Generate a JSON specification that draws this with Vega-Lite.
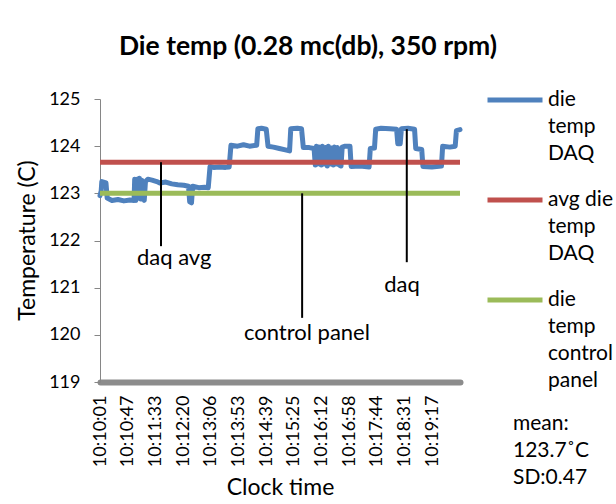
{
  "$schema": "https://vega.github.io/schema/vega-lite/v6.json",
  "width": 360,
  "height": 283,
  "autosize": {"type": "none"},
  "padding": {"left": 100, "top": 99, "right": 156, "bottom": 122},
  "background": "white",
  "config": {
    "font": "Lato",
    "view": {"stroke": null},
    "style": {"guide-label": {"lineHeight": 27}}
  },
  "title": {
    "text": "Die temp (0.28 mc(db), 350 rpm)",
    "font": "Lato",
    "fontSize": 26.5,
    "fontWeight": "bold",
    "color": "black",
    "anchor": "middle",
    "frame": "group",
    "dx": 28,
    "dy": 11,
    "baseline": "alphabetic",
    "offset": 0
  },
  "encoding": {
    "x": {
      "field": "t",
      "type": "temporal",
      "scale": {"domain": [
        {"year": 1900, "month": 1, "date": 1, "hours": 10, "minutes": 10, "seconds": 1},
        {"year": 1900, "month": 1, "date": 1, "hours": 10, "minutes": 20, "seconds": 3}
      ]},
      "axis": {
        "title": "Clock time",
        "values": [
          {"year": 1900, "month": 1, "date": 1, "hours": 10, "minutes": 10, "seconds": 1},
          {"year": 1900, "month": 1, "date": 1, "hours": 10, "minutes": 10, "seconds": 47},
          {"year": 1900, "month": 1, "date": 1, "hours": 10, "minutes": 11, "seconds": 33},
          {"year": 1900, "month": 1, "date": 1, "hours": 10, "minutes": 12, "seconds": 20},
          {"year": 1900, "month": 1, "date": 1, "hours": 10, "minutes": 13, "seconds": 6},
          {"year": 1900, "month": 1, "date": 1, "hours": 10, "minutes": 13, "seconds": 53},
          {"year": 1900, "month": 1, "date": 1, "hours": 10, "minutes": 14, "seconds": 39},
          {"year": 1900, "month": 1, "date": 1, "hours": 10, "minutes": 15, "seconds": 25},
          {"year": 1900, "month": 1, "date": 1, "hours": 10, "minutes": 16, "seconds": 12},
          {"year": 1900, "month": 1, "date": 1, "hours": 10, "minutes": 16, "seconds": 58},
          {"year": 1900, "month": 1, "date": 1, "hours": 10, "minutes": 17, "seconds": 44},
          {"year": 1900, "month": 1, "date": 1, "hours": 10, "minutes": 18, "seconds": 31},
          {"year": 1900, "month": 1, "date": 1, "hours": 10, "minutes": 19, "seconds": 17}
        ],
        "format": "%H:%M:%S",
        "labelAngle": 270,
        "labelAlign": "right",
        "labelBaseline": "middle",
        "labelFontSize": 18,
        "labelColor": "black",
        "labelPadding": 13,
        "labelOverlap": false,
        "labelFlush": false,
        "ticks": false,
        "grid": false,
        "domainColor": "#8c8c8c",
        "domainWidth": 6,
        "domainCap": "round",
        "titleFontSize": 23,
        "titleFontWeight": "normal",
        "titleColor": "black",
        "titleBaseline": "alphabetic",
        "titleY": 112
      }
    },
    "y": {
      "field": "v",
      "type": "quantitative",
      "scale": {"domain": [119, 125], "nice": false, "zero": false},
      "axis": {
        "title": "Temperature (C)",
        "values": [119, 120, 121, 122, 123, 124, 125],
        "labelFontSize": 18,
        "labelColor": "black",
        "labelPadding": 14,
        "tickSize": 6,
        "tickColor": "#868686",
        "domainColor": "#868686",
        "grid": false,
        "titleFontSize": 23,
        "titleFontWeight": "normal",
        "titleColor": "black",
        "titleAngle": 270,
        "titleBaseline": "alphabetic",
        "titleAlign": "center",
        "titleX": -66,
        "titleY": 141
      }
    }
  },
  "layer": [
    {
      "data": {
        "values": [
          {"s": "die temp DAQ", "t": "10:10:01", "v": 122.95},
          {"s": "die temp DAQ", "t": "10:10:03", "v": 123.05},
          {"s": "die temp DAQ", "t": "10:10:04", "v": 123.25},
          {"s": "die temp DAQ", "t": "10:10:11", "v": 123.22},
          {"s": "die temp DAQ", "t": "10:10:13", "v": 122.9},
          {"s": "die temp DAQ", "t": "10:10:21", "v": 122.85},
          {"s": "die temp DAQ", "t": "10:10:31", "v": 122.87},
          {"s": "die temp DAQ", "t": "10:10:41", "v": 122.84},
          {"s": "die temp DAQ", "t": "10:10:51", "v": 122.86},
          {"s": "die temp DAQ", "t": "10:10:58", "v": 122.85},
          {"s": "die temp DAQ", "t": "10:10:59", "v": 123.3},
          {"s": "die temp DAQ", "t": "10:11:01", "v": 122.85},
          {"s": "die temp DAQ", "t": "10:11:03", "v": 123.3},
          {"s": "die temp DAQ", "t": "10:11:05", "v": 122.9},
          {"s": "die temp DAQ", "t": "10:11:07", "v": 123.32},
          {"s": "die temp DAQ", "t": "10:11:09", "v": 122.88},
          {"s": "die temp DAQ", "t": "10:11:11", "v": 123.28},
          {"s": "die temp DAQ", "t": "10:11:13", "v": 123.0},
          {"s": "die temp DAQ", "t": "10:11:15", "v": 122.85},
          {"s": "die temp DAQ", "t": "10:11:17", "v": 123.25},
          {"s": "die temp DAQ", "t": "10:11:21", "v": 123.3},
          {"s": "die temp DAQ", "t": "10:11:28", "v": 123.28},
          {"s": "die temp DAQ", "t": "10:11:36", "v": 123.25},
          {"s": "die temp DAQ", "t": "10:11:41", "v": 123.22},
          {"s": "die temp DAQ", "t": "10:11:51", "v": 123.24},
          {"s": "die temp DAQ", "t": "10:12:01", "v": 123.2},
          {"s": "die temp DAQ", "t": "10:12:11", "v": 123.18},
          {"s": "die temp DAQ", "t": "10:12:21", "v": 123.17},
          {"s": "die temp DAQ", "t": "10:12:29", "v": 123.15},
          {"s": "die temp DAQ", "t": "10:12:31", "v": 122.82},
          {"s": "die temp DAQ", "t": "10:12:34", "v": 122.8},
          {"s": "die temp DAQ", "t": "10:12:36", "v": 123.15},
          {"s": "die temp DAQ", "t": "10:12:46", "v": 123.12},
          {"s": "die temp DAQ", "t": "10:12:56", "v": 123.13},
          {"s": "die temp DAQ", "t": "10:13:02", "v": 123.12},
          {"s": "die temp DAQ", "t": "10:13:05", "v": 123.57},
          {"s": "die temp DAQ", "t": "10:13:11", "v": 123.55},
          {"s": "die temp DAQ", "t": "10:13:21", "v": 123.56},
          {"s": "die temp DAQ", "t": "10:13:31", "v": 123.55},
          {"s": "die temp DAQ", "t": "10:13:37", "v": 123.56},
          {"s": "die temp DAQ", "t": "10:13:40", "v": 124.02},
          {"s": "die temp DAQ", "t": "10:13:51", "v": 124.0},
          {"s": "die temp DAQ", "t": "10:14:01", "v": 124.03},
          {"s": "die temp DAQ", "t": "10:14:11", "v": 124.0},
          {"s": "die temp DAQ", "t": "10:14:23", "v": 124.02},
          {"s": "die temp DAQ", "t": "10:14:25", "v": 124.37},
          {"s": "die temp DAQ", "t": "10:14:31", "v": 124.38},
          {"s": "die temp DAQ", "t": "10:14:39", "v": 124.36},
          {"s": "die temp DAQ", "t": "10:14:42", "v": 124.0},
          {"s": "die temp DAQ", "t": "10:14:51", "v": 123.98},
          {"s": "die temp DAQ", "t": "10:15:01", "v": 123.95},
          {"s": "die temp DAQ", "t": "10:15:11", "v": 123.92},
          {"s": "die temp DAQ", "t": "10:15:18", "v": 123.9},
          {"s": "die temp DAQ", "t": "10:15:20", "v": 124.37},
          {"s": "die temp DAQ", "t": "10:15:31", "v": 124.38},
          {"s": "die temp DAQ", "t": "10:15:38", "v": 124.37},
          {"s": "die temp DAQ", "t": "10:15:41", "v": 123.97},
          {"s": "die temp DAQ", "t": "10:15:51", "v": 123.97},
          {"s": "die temp DAQ", "t": "10:15:59", "v": 123.95},
          {"s": "die temp DAQ", "t": "10:16:01", "v": 123.6},
          {"s": "die temp DAQ", "t": "10:16:03", "v": 124.0},
          {"s": "die temp DAQ", "t": "10:16:05", "v": 123.62},
          {"s": "die temp DAQ", "t": "10:16:07", "v": 123.98},
          {"s": "die temp DAQ", "t": "10:16:09", "v": 123.95},
          {"s": "die temp DAQ", "t": "10:16:11", "v": 123.6},
          {"s": "die temp DAQ", "t": "10:16:13", "v": 124.0},
          {"s": "die temp DAQ", "t": "10:16:16", "v": 123.62},
          {"s": "die temp DAQ", "t": "10:16:18", "v": 123.97},
          {"s": "die temp DAQ", "t": "10:16:21", "v": 123.58},
          {"s": "die temp DAQ", "t": "10:16:23", "v": 124.0},
          {"s": "die temp DAQ", "t": "10:16:26", "v": 123.62},
          {"s": "die temp DAQ", "t": "10:16:28", "v": 123.96},
          {"s": "die temp DAQ", "t": "10:16:31", "v": 123.6},
          {"s": "die temp DAQ", "t": "10:16:33", "v": 123.98},
          {"s": "die temp DAQ", "t": "10:16:36", "v": 123.62},
          {"s": "die temp DAQ", "t": "10:16:38", "v": 123.97},
          {"s": "die temp DAQ", "t": "10:16:41", "v": 123.6},
          {"s": "die temp DAQ", "t": "10:16:44", "v": 123.58},
          {"s": "die temp DAQ", "t": "10:16:46", "v": 123.98},
          {"s": "die temp DAQ", "t": "10:16:51", "v": 124.0},
          {"s": "die temp DAQ", "t": "10:16:59", "v": 124.0},
          {"s": "die temp DAQ", "t": "10:17:01", "v": 123.57},
          {"s": "die temp DAQ", "t": "10:17:16", "v": 123.58},
          {"s": "die temp DAQ", "t": "10:17:31", "v": 123.56},
          {"s": "die temp DAQ", "t": "10:17:33", "v": 123.95},
          {"s": "die temp DAQ", "t": "10:17:40", "v": 123.96},
          {"s": "die temp DAQ", "t": "10:17:42", "v": 124.36},
          {"s": "die temp DAQ", "t": "10:17:51", "v": 124.38},
          {"s": "die temp DAQ", "t": "10:18:06", "v": 124.37},
          {"s": "die temp DAQ", "t": "10:18:17", "v": 124.36},
          {"s": "die temp DAQ", "t": "10:18:19", "v": 124.05},
          {"s": "die temp DAQ", "t": "10:18:23", "v": 124.05},
          {"s": "die temp DAQ", "t": "10:18:25", "v": 124.37},
          {"s": "die temp DAQ", "t": "10:18:36", "v": 124.38},
          {"s": "die temp DAQ", "t": "10:18:47", "v": 124.36},
          {"s": "die temp DAQ", "t": "10:18:49", "v": 123.95},
          {"s": "die temp DAQ", "t": "10:18:59", "v": 123.93},
          {"s": "die temp DAQ", "t": "10:19:01", "v": 123.57},
          {"s": "die temp DAQ", "t": "10:19:16", "v": 123.56},
          {"s": "die temp DAQ", "t": "10:19:32", "v": 123.58},
          {"s": "die temp DAQ", "t": "10:19:34", "v": 124.0},
          {"s": "die temp DAQ", "t": "10:19:46", "v": 123.98},
          {"s": "die temp DAQ", "t": "10:19:55", "v": 124.0},
          {"s": "die temp DAQ", "t": "10:19:57", "v": 124.33},
          {"s": "die temp DAQ", "t": "10:20:03", "v": 124.35},
          {"s": "avg die temp DAQ", "t": "10:10:01", "v": 123.66},
          {"s": "avg die temp DAQ", "t": "10:20:03", "v": 123.66},
          {"s": "die temp control panel", "t": "10:10:01", "v": 123.0},
          {"s": "die temp control panel", "t": "10:20:03", "v": 123.0}
        ],
        "format": {"parse": {"t": "date:'%H:%M:%S'"}}
      },
      "layer": [
        {
          "transform": [{"filter": "datum.s == 'die temp DAQ'"}],
          "mark": {"type": "line", "strokeWidth": 5, "strokeCap": "round", "strokeJoin": "round"},
          "encoding": {
            "color": {
              "field": "s",
              "type": "nominal",
              "scale": {
                "domain": ["die temp DAQ", "avg die temp DAQ", "die temp control panel"],
                "range": ["#4F81BD", "#C0504D", "#9BBB59"]
              },
              "legend": {
                "orient": "none",
                "legendX": 385,
                "legendY": -29,
                "direction": "vertical",
                "padding": 0,
                "title": ["mean:", "123.7˚C", "SD:0.47"],
                "titleOrient": "bottom",
                "titleFontSize": 21,
                "titleFontWeight": "normal",
                "titleLineHeight": 27,
                "titleColor": "black",
                "titleAnchor": "start",
                "titleAlign": "left",
                "titlePadding": 22,
                "titleLimit": 0,
                "symbolType": "stroke",
                "symbolSize": 3025,
                "symbolStrokeWidth": 5,
                "labelFontSize": 21,
                "labelColor": "black",
                "labelOffset": 3,
                "labelBaseline": "alphabetic",
                "labelLimit": 0,
                "rowPadding": 6,
                "labelExpr": "datum.label == 'die temp DAQ' ? ['die','temp','DAQ'] : datum.label == 'avg die temp DAQ' ? ['avg die','temp','DAQ'] : ['die','temp','control','panel']",
                "encode": {
                  "labels": {"update": {"dy": {"value": 6}}},
                  "title": {"update": {"dx": {"value": 28}}}
                }
              }
            }
          }
        },
        {
          "transform": [{"filter": "datum.s != 'die temp DAQ'"}],
          "mark": {"type": "line", "strokeWidth": 5},
          "encoding": {
            "color": {"field": "s", "type": "nominal"},
            "detail": {"field": "s", "type": "nominal"}
          }
        }
      ]
    },
    {
      "data": {
        "values": [
          {"label": "daq avg", "t": "10:11:43", "v": 123.66, "v2": 121.88},
          {"label": "control panel", "t": "10:15:39", "v": 123.0, "v2": 120.36},
          {"label": "daq", "t": "10:18:34", "v": 124.36, "v2": 121.54}
        ],
        "format": {"parse": {"t": "date:'%H:%M:%S'"}}
      },
      "mark": {"type": "rule", "color": "black", "strokeWidth": 2},
      "encoding": {
        "y2": {"field": "v2"}
      }
    },
    {
      "data": {
        "values": [
          {"label": "daq avg", "t": "10:12:05", "v": 121.47},
          {"label": "control panel", "t": "10:15:47", "v": 119.89},
          {"label": "daq", "t": "10:18:26", "v": 120.91}
        ],
        "format": {"parse": {"t": "date:'%H:%M:%S'"}}
      },
      "mark": {"type": "text", "fontSize": 22, "color": "black", "align": "center", "baseline": "alphabetic", "font": "Lato"},
      "encoding": {
        "text": {"field": "label"}
      }
    }
  ]
}
